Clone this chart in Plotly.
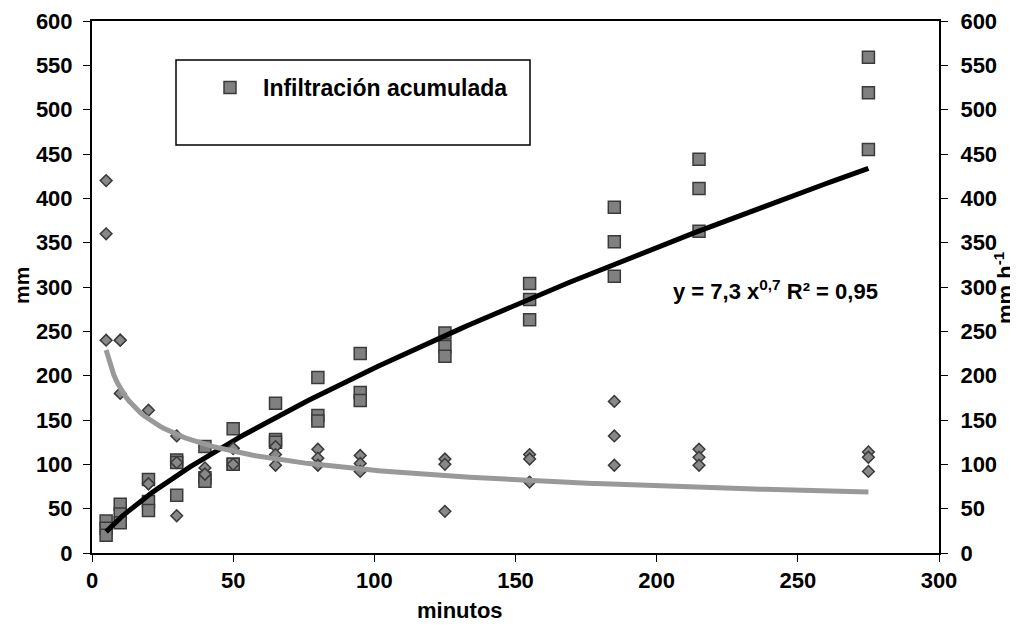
import numpy as np
import plotly.graph_objects as go

# ---- data ----
minutes = [5, 10, 20, 30, 40, 50, 65, 80, 95, 125, 155, 185, 215, 275]

# accumulated infiltration (mm), three replicates
inf_rep1 = [36, 55, 83, 105, 120, 140, 169, 198, 225, 248, 304, 390, 444, 559]
inf_rep2 = [28, 44, 58, 102, 85, 100, 128, 155, 181, 233, 286, 351, 411, 519]
inf_rep3 = [20, 34, 48, 65, 81, 100, 125, 149, 172, 222, 263, 312, 363, 455]

# infiltration rate (mm h-1), three replicates
rate_rep1 = [420, 240, 161, 132, 96, 118, 120, 117, 110, 106, 111, 171, 117, 114]
rate_rep2 = [360, 180, 78, 102, 89, 100, 111, 107, 101, 100, 106, 132, 108, 108]
rate_rep3 = [240, 240, 78, 42, 89, 118, 99, 99, 92, 47, 80, 99, 99, 92]

# grey power trendline of the rate, coefficient and exponent
rate_trend_coef = 371.0
rate_trend_exp = -0.30

y_ticks = list(range(0, 601, 50))
x_ticks = list(range(0, 301, 50))

equation_text = "y = 7,3 x<sup>0,7</sup> R² = 0,95"
legend_label = "Infiltración acumulada"

# ---- power-law trendline of accumulated infiltration (log-log least squares) ----
x_all = np.array(minutes * 3, dtype=float)
inf_all = np.array(inf_rep1 + inf_rep2 + inf_rep3, dtype=float)
b1, la1 = np.polyfit(np.log(x_all), np.log(inf_all), 1)
xf = np.linspace(min(minutes), max(minutes), 200)
inf_fit = np.exp(la1) * xf ** b1
rate_fit = rate_trend_coef * xf ** rate_trend_exp

FONT = "Arial, Liberation Sans, sans-serif"

# the page body has an 8px margin, so the figure is 8px smaller and all
# reference pixel positions are shifted by OFF
OFF = 8
W, H = 1018 - OFF, 626 - OFF
L, R, T, B = 92 - OFF, 79, 21 - OFF, 73
PW, PH = W - L - R, H - T - B


def px(xp):
    return (xp - OFF - L) / PW


def py(yp):
    return (H - B - (yp - OFF)) / PH


fig = go.Figure()

fig.add_trace(go.Scatter(
    x=minutes * 3, y=rate_rep1 + rate_rep2 + rate_rep3, mode="markers",
    marker=dict(symbol="diamond", size=9, color="#888888",
                line=dict(color="#3a3a3a", width=1.5)),
    yaxis="y2", showlegend=False, hoverinfo="skip"))

fig.add_trace(go.Scatter(
    x=minutes * 3, y=inf_rep1 + inf_rep2 + inf_rep3, mode="markers",
    name=legend_label,
    marker=dict(symbol="square", size=12, color="#808080",
                line=dict(color="#3a3a3a", width=1.5)),
    showlegend=True))

fig.add_trace(go.Scatter(
    x=xf, y=rate_fit, mode="lines", yaxis="y2",
    line=dict(color="#999999", width=5), showlegend=False))

fig.add_trace(go.Scatter(
    x=xf, y=inf_fit, mode="lines",
    line=dict(color="#000000", width=5), showlegend=False))

tick_font = dict(family=FONT, size=22, color="#000000", weight="bold")
title_font = dict(family=FONT, size=22, color="#000000", weight="bold")

axis_common = dict(
    range=[0, 600], tickvals=y_ticks, ticks="outside", ticklen=7,
    tickcolor="#000000", tickwidth=1, showgrid=False, zeroline=False,
    showline=True, linecolor="#000000", linewidth=2,
    tickfont=tick_font, automargin=False,
)

fig.update_layout(
    width=W, height=H,
    margin=dict(l=L, r=R, t=T, b=B, autoexpand=False),
    paper_bgcolor="#ffffff", plot_bgcolor="#ffffff",
    xaxis=dict(
        range=[0, 300], tickvals=x_ticks, ticks="outside", ticklen=7,
        tickcolor="#000000", showgrid=False, zeroline=False,
        showline=True, linecolor="#000000", linewidth=2, mirror=True,
        tickfont=tick_font, ticklabelstandoff=0, automargin=False,
    ),
    yaxis=dict(**axis_common, ticklabelstandoff=6),
    yaxis2=dict(**axis_common, overlaying="y", side="right", ticklabelstandoff=8),
    legend=dict(x=px(197), y=py(66), xanchor="left", yanchor="top",
                bgcolor="rgba(0,0,0,0)", borderwidth=0,
                font=dict(family=FONT, size=23, color="#000000", weight="bold"),
                itemwidth=56),
    shapes=[dict(type="rect", xref="paper", yref="paper",
                 x0=px(176), x1=px(530), y0=py(145), y1=py(60),
                 line=dict(color="#000000", width=1.5), fillcolor="#ffffff",
                 layer="below")],
    annotations=[
        dict(x=242, y=297, xref="x", yref="y", text=equation_text,
             showarrow=False, xanchor="center", yanchor="middle",
             font=dict(family=FONT, size=22, color="#000000", weight="bold")),
        dict(x=px(460), y=py(610), xref="paper", yref="paper", text="minutos",
             showarrow=False, xanchor="center", yanchor="middle", font=title_font),
        dict(x=px(21), y=py(286), xref="paper", yref="paper", text="mm",
             textangle=-90, showarrow=False, xanchor="center", yanchor="middle",
             font=dict(family=FONT, size=21, color="#000000", weight="bold")),
        dict(x=px(1004), y=py(288), xref="paper", yref="paper",
             text="mm h<sup>-1</sup>", textangle=-90, showarrow=False,
             xanchor="center", yanchor="middle", font=title_font),
    ],
)

fig.write_html("out.html")
